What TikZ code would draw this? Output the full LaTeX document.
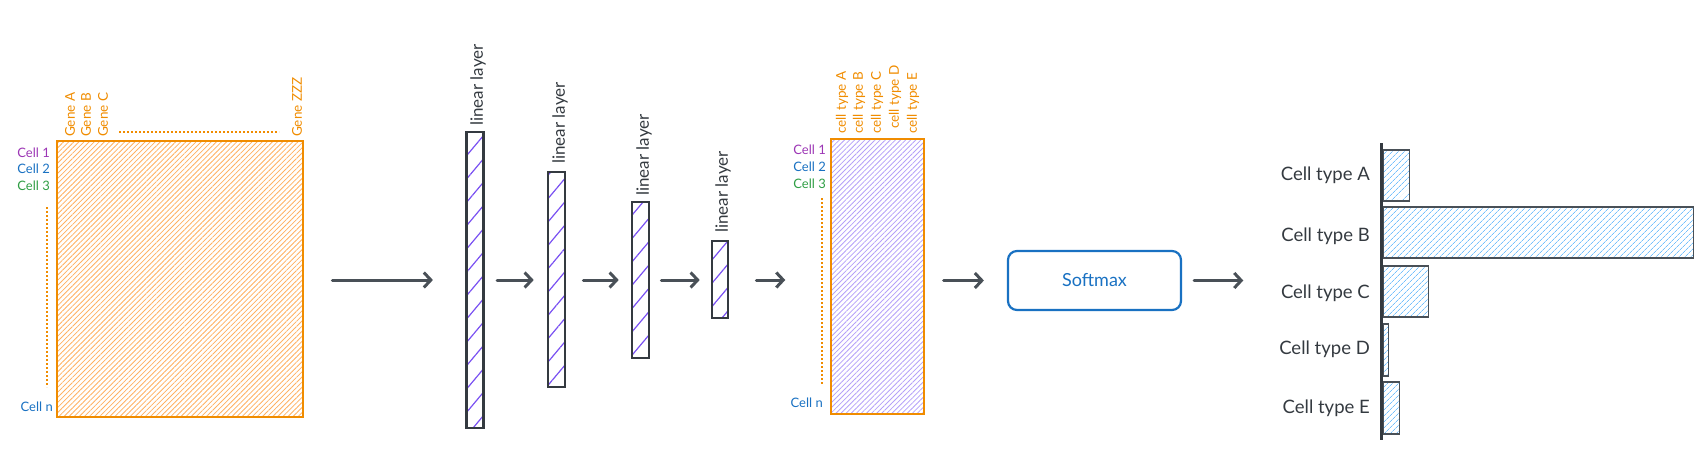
\documentclass[tikz,border=0pt]{standalone}
\usepackage{fontspec}
\setmainfont{Lato}
\usetikzlibrary{patterns.meta,arrows.meta}
\definecolor{orn}{HTML}{F08C00}
\definecolor{ornl}{HTML}{FFB060}
\definecolor{vio}{HTML}{7950F2}
\definecolor{viol}{HTML}{B4A0F8}
\definecolor{dk}{HTML}{343A40}
\definecolor{ar}{HTML}{495057}
\definecolor{bl}{HTML}{1971C2}
\definecolor{bll}{HTML}{74C0FC}
\definecolor{gr}{HTML}{2F9E44}
\definecolor{pu}{HTML}{9C36B5}
\begin{document}
\begin{tikzpicture}[x=1pt,y=-1pt,
  matbox/.style={draw=orn, line width=1.4pt, inner sep=0pt,
    pattern={Lines[angle=45,distance=3.6pt,line width=0.8pt]}},
  layerbox/.style={draw=dk, line width=2.6pt, inner sep=0pt, minimum width=17pt,
    pattern={Lines[angle=50,distance=15pt,line width=1.2pt]}, pattern color=vio},
  arr/.style={draw=ar, line width=3pt, line cap=round, -{Straight Barb[length=7pt,width=15pt,line width=3pt]}},
  lbl/.style={font=\fontsize{17}{17}\selectfont, text=dk, rotate=90, anchor=west, inner sep=0pt},
  small/.style={font=\fontsize{13}{13}\selectfont, inner sep=0pt},
  head/.style={font=\fontsize{13.5}{13.5}\selectfont, text=orn, rotate=90, anchor=west, inner sep=0pt},
  dots/.style={draw=orn, line width=2pt, dotted},
  bar/.style={draw=ar, line width=1.3pt, inner sep=0pt, anchor=west,
    pattern={Lines[angle=45,distance=4pt,line width=0.8pt]}, pattern color=bll},
  blab/.style={font=\fontsize{18.5}{18.5}\selectfont, text=dk, anchor=east, inner sep=0pt}]
\useasboundingbox (0,0) rectangle (1706,455);

% input matrix
\node[matbox, pattern color=ornl, minimum width=246pt, minimum height=276pt] (m1) at (180,279) {};
\node[head] (gA) at (70,137) {Gene A};
\node[head] (gB) at (86,137) {Gene B};
\node[head] (gC) at (103,137) {Gene C};
\node[head] (gZ) at (297,137) {Gene ZZZ};
\draw[dots] (119,132) -- (279,132);
\node[small, text=pu, anchor=east] (c1) at (50,153) {Cell 1};
\node[small, text=bl, anchor=east] (c2) at (50,169) {Cell 2};
\node[small, text=gr, anchor=east] (c3) at (50,186) {Cell 3};
\node[small, text=bl, anchor=east] (cn) at (53,407) {Cell n};
\draw[dots] (47,207) -- (47,387);

% linear layers
\node[layerbox, minimum height=296pt] (l1) at (475,280) {};
\node[layerbox, minimum height=215pt] (l2) at (556.5,279.5) {};
\node[layerbox, minimum height=156pt] (l3) at (640.5,280) {};
\node[layerbox, minimum width=16pt, minimum height=77pt] (l4) at (720,279.5) {};
\node[lbl] (t1) at (478,126) {linear layer};
\node[lbl] (t2) at (560,164) {linear layer};
\node[lbl] (t3) at (644,196) {linear layer};
\node[lbl] (t4) at (723,233) {linear layer};

% output matrix
\node[matbox, pattern color=viol, minimum width=93pt, minimum height=275pt] (m2) at (877.5,276.5) {};
\node[head] (h1) at (842,134) {cell type A};
\node[head] (h2) at (859,134) {cell type B};
\node[head] (h3) at (877,134) {cell type C};
\node[head] (h4) at (895,129) {cell type D};
\node[head] (h5) at (913,134) {cell type E};
\node[small, text=pu, anchor=east] (k1) at (826,150) {Cell 1};
\node[small, text=bl, anchor=east] (k2) at (826,167) {Cell 2};
\node[small, text=gr, anchor=east] (k3) at (826,184) {Cell 3};
\node[small, text=bl, anchor=east] (kn) at (823,403) {Cell n};
\draw[dots] (822,198) -- (822,384);

% softmax
\node[draw=bl, line width=2.2pt, rounded corners=9pt, minimum width=173pt, minimum height=59pt,
  text=bl, font=\fontsize{18}{18}\selectfont, inner sep=0pt] (sm) at (1094.5,280.5) {Softmax};

% bar chart
\node[fill=dk, inner sep=0pt, minimum width=3pt, minimum height=297pt] (axis) at (1381,291.5) {};
\node[bar, minimum width=26pt, minimum height=51pt] (bA) at (1383,175.5) {};
\node[bar, minimum width=310pt, minimum height=51pt] (bB) at (1383,232.5) {};
\node[bar, minimum width=45pt, minimum height=51pt] (bC) at (1383,291.5) {};
\node[bar, minimum width=5pt, minimum height=52pt] (bD) at (1383,350) {};
\node[bar, minimum width=16pt, minimum height=52pt] (bE) at (1383,408) {};
\node[blab] (lA) at (1370,175) {Cell type A};
\node[blab] (lB) at (1370,236) {Cell type B};
\node[blab] (lC) at (1370,293) {Cell type C};
\node[blab] (lD) at (1370,349) {Cell type D};
\node[blab] (lE) at (1370,408) {Cell type E};

% arrows
\draw[arr, shorten <=29pt, shorten >=33pt] (m1.east |- l1.west) -- (l1.west);
\draw[arr, shorten <=13pt, shorten >=13pt] (l1.east) -- (l1.east -| l2.west);
\draw[arr, shorten <=17pt, shorten >=12pt] (l2.east |- l1.east) -- (l1.east -| l3.west);
\draw[arr, shorten <=11pt, shorten >=11pt] (l3.east) -- (l3.east -| l4.west);
\draw[arr, shorten <=27pt, shorten >=45pt] (l4.east |- l1.east) -- (l1.east -| m2.west);
\draw[arr, shorten <=19pt, shorten >=23pt] (m2.east |- sm.west) -- (sm.west);
\draw[arr, shorten <=12pt, shorten >=136pt] (sm.east) -- (sm.east -| axis.west);
\end{tikzpicture}
\end{document}
